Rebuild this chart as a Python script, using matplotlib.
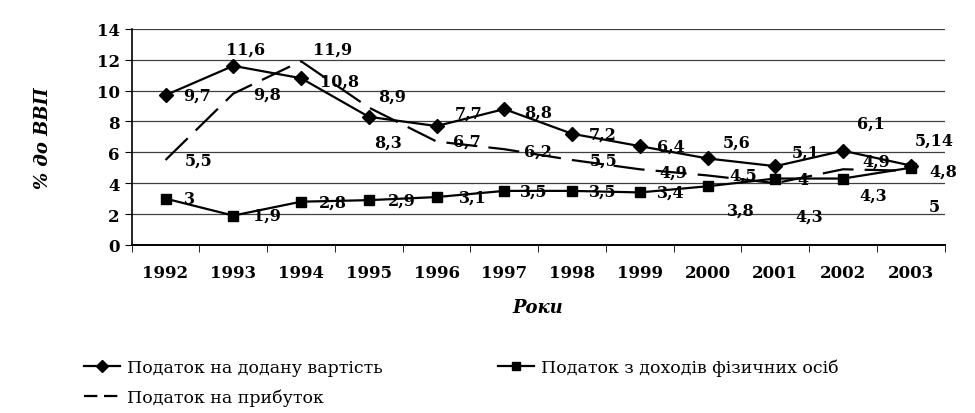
import numpy as np
import matplotlib.pyplot as plt
from matplotlib.lines import Line2D

# Data (% of GDP)
years = ['1992', '1993', '1994', '1995', '1996', '1997',
         '1998', '1999', '2000', '2001', '2002', '2003']
vat = [9.7, 11.6, 10.8, 8.3, 7.7, 8.8, 7.2, 6.4, 5.6, 5.1, 6.1, 5.14]
profit = [5.5, 9.8, 11.9, 8.9, 6.7, 6.2, 5.5, 4.9, 4.5, 4.0, 4.9, 4.8]
pit = [3.0, 1.9, 2.8, 2.9, 3.1, 3.5, 3.5, 3.4, 3.8, 4.3, 4.3, 5.0]

vat_labels = ['9,7', '11,6', '10,8', '8,3', '7,7', '8,8', '7,2', '6,4', '5,6', '5,1', '6,1', '5,14']
profit_labels = ['5,5', '9,8', '11,9', '8,9', '6,7', '6,2', '5,5', '4,9', '4,5', '4', '4,9', '4,8']
pit_labels = ['3', '1,9', '2,8', '2,9', '3,1', '3,5', '3,5', '3,4', '3,8', '4,3', '4,3', '5']

# label offsets in points (dx, dy)
vat_off = [(23, 0), (9, 12), (28, -2), (14, -18), (23, 9), (24, -2),
           (22, 0), (22, 0), (21, 12), (22, 10), (20, 20), (17, 18)]
profit_off = [(24, 0), (24, 0), (23, 9), (17, 8), (22, 0), (24, -1),
              (23, 0), (24, -2), (26, 0), (20, 3), (24, 6), (23, 0)]
pit_off = [(17, 0), (24, 0), (23, 0), (24, 0), (26, 0), (21, 0),
           (22, 0), (22, 0), (24, -17), (24, -27), (22, -12), (17, -28)]

plt.rcParams['font.family'] = ['DejaVu Serif']

fig = plt.figure(figsize=(9.75, 4.14), dpi=100)
ax = fig.add_axes([0.135, 0.406, 0.834, 0.522])

x = np.arange(len(years))

ax.plot(x, vat, color='black', lw=1.6, marker='D', ms=7, zorder=3)
ax.plot(x, pit, color='black', lw=1.6, marker='s', ms=7, zorder=3)
ax.plot(x, profit, color='black', lw=1.6, ls=(0, (14, 5)), zorder=2)

for series, labels, offs in [(vat, vat_labels, vat_off),
                             (profit, profit_labels, profit_off),
                             (pit, pit_labels, pit_off)]:
    for xi, yi, lab, (dx, dy) in zip(x, series, labels, offs):
        ax.annotate(lab, (xi, yi), xytext=(dx, dy), textcoords='offset points',
                    ha='center', va='center', fontsize=11.5, fontweight='bold')

ax.set_xlim(-0.48, 11.45)
ax.set_ylim(0, 14)
ax.set_yticks(np.arange(0, 15, 2))
ax.yaxis.grid(True, color='0.25', lw=0.9)
ax.set_axisbelow(True)

ax.set_xticks(x)
ax.set_xticklabels(years)
ax.set_xticks(np.arange(-0.5, 11.6, 1), minor=True)
ax.tick_params(axis='x', which='major', length=0, pad=14, labelsize=12)
ax.tick_params(axis='x', which='minor', length=5, direction='out')
ax.tick_params(axis='y', labelsize=12, length=5)
for lab in ax.get_xticklabels() + ax.get_yticklabels():
    lab.set_fontweight('bold')

for s in ['top', 'right']:
    ax.spines[s].set_visible(False)
ax.spines['left'].set_linewidth(1.2)
ax.spines['bottom'].set_linewidth(1.4)

ax.set_ylabel('% до ВВП', fontsize=13, fontweight='bold', fontstyle='italic', labelpad=32)
ax.set_xlabel('Роки', fontsize=13, fontweight='bold', fontstyle='italic', labelpad=12)

# column-wise fill: VAT, profit in column 1; PIT in column 2
handles = [Line2D([], [], color='black', lw=1.6, marker='D', ms=6),
           Line2D([], [], color='black', lw=1.6, ls=(0, (6, 3))),
           Line2D([], [], color='black', lw=1.6, marker='s', ms=6)]
names = ['Податок на додану вартість', 'Податок на прибуток', 'Податок з доходів фізичних осіб']
fig.legend(handles, names, loc='lower left', bbox_to_anchor=(0.07, -0.02), ncol=2,
           frameon=False, fontsize=12.5, handlelength=2.1, columnspacing=6.6,
           handletextpad=0.4, labelspacing=0.72)

fig.savefig('out.png', dpi=100)
